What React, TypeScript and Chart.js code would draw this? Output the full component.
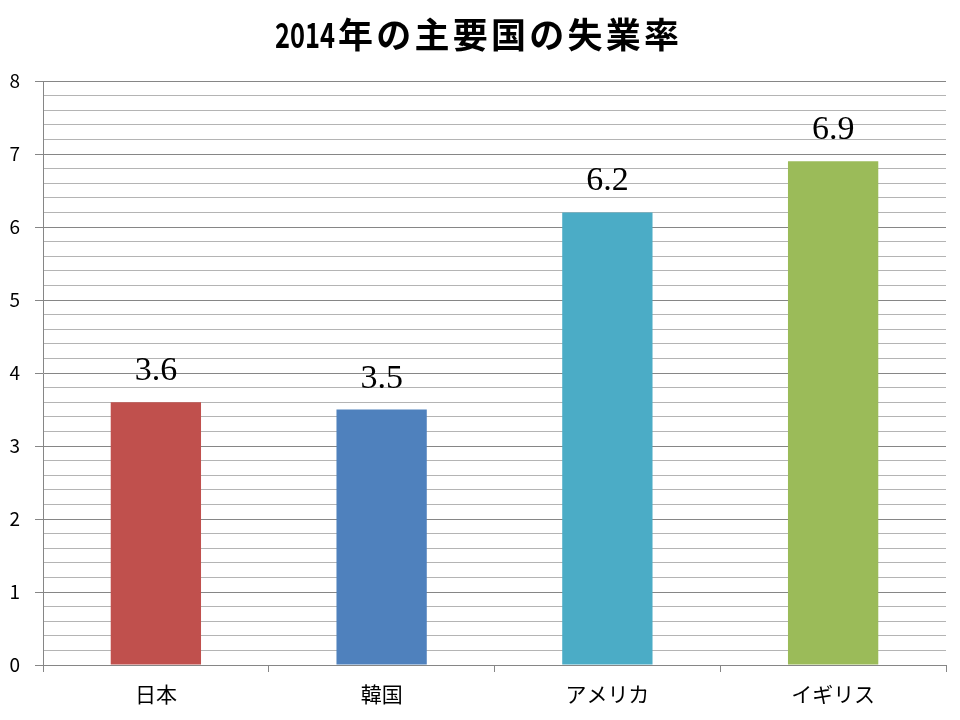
import { Chart, registerables } from 'chart.js'
import React, { useEffect, useRef } from 'react'

Chart.register(...registerables)

const titleYear = '2014'
const titleRest = '年の主要国の失業率'
const countries = ['日本', '韓国', 'アメリカ', 'イギリス']
const unemployment = [3.6, 3.5, 6.2, 6.9]
const barColors = ['#C0504D', '#4F81BD', '#4BACC6', '#9BBB59']
const yMin = 0
const yMax = 8
const yStep = 0.2

const isMajor = (v: number) => Math.abs(v - Math.round(v)) < 1e-6

// title: narrow digits + spaced kanji, drawn by hand
const titlePlugin = {
  id: 'spacedTitle',
  afterDraw(chart: Chart) {
    const ctx = chart.ctx
    ctx.save()
    ctx.font = 'bold 35px "Noto Sans CJK JP", sans-serif'
    ctx.fillStyle = '#000'
    ctx.textAlign = 'left'
    ctx.textBaseline = 'middle'
    const yearW = ctx.measureText(titleYear).width
    ctx.save()
    ctx.translate(275, 35)
    ctx.scale(60 / yearW, 1)
    ctx.fillText(titleYear, 0, 0)
    ctx.restore()
    const restW = ctx.measureText(titleRest).width
    const gap = Math.max(0, (341 - restW) / (titleRest.length - 1))
    ;(ctx as any).letterSpacing = gap + 'px'
    ctx.fillText(titleRest, 338, 35)
    ctx.restore()
  }
}

// value labels above each bar
const valueLabels = {
  id: 'valueLabels',
  afterDatasetsDraw(chart: Chart) {
    const ctx = chart.ctx
    const meta = chart.getDatasetMeta(0)
    ctx.save()
    ctx.font = '34px "Liberation Serif", serif'
    ctx.fillStyle = '#000'
    ctx.textAlign = 'center'
    ctx.textBaseline = 'alphabetic'
    meta.data.forEach((bar: any, i: number) => {
      ctx.fillText(unemployment[i].toFixed(1), bar.x, bar.y - 22)
    })
    ctx.restore()
  }
}

const BarChart: React.FC = () => {
  const chartRef = useRef<Chart | null>(null)
  const canvasRef = useRef<HTMLCanvasElement | null>(null)

  useEffect(() => {
    document.body.style.margin = '0'
    if (!canvasRef.current) return
    if (chartRef.current) chartRef.current.destroy()

    chartRef.current = new Chart(canvasRef.current, {
      type: 'bar',
      data: {
        labels: countries,
        datasets: [
          {
            label: '失業率',
            data: unemployment,
            backgroundColor: barColors,
            borderWidth: 0,
            barPercentage: 0.4,
            categoryPercentage: 1
          }
        ]
      },
      options: {
        animation: false,
        responsive: true,
        maintainAspectRatio: false,
        layout: { padding: { top: 81, right: 14, left: 0, bottom: 0 } },
        plugins: {
          legend: { display: false },
          title: { display: false },
          tooltip: { enabled: false }
        },
        scales: {
          x: {
            afterFit: (scale: any) => {
              scale.height = 55
            },
            grid: {
              drawOnChartArea: false,
              drawTicks: true,
              tickLength: 7,
              color: '#868686'
            },
            border: { color: '#868686', width: 1 },
            ticks: {
              color: '#000',
              padding: 9,
              font: { family: '"Noto Sans CJK JP", sans-serif', size: 21 }
            }
          },
          y: {
            min: yMin,
            max: yMax,
            afterFit: (scale: any) => {
              scale.width = 43
            },
            grid: {
              color: (c: any) => (isMajor(c.tick.value) ? '#868686' : '#b4b4b4'),
              tickColor: (c: any) => (isMajor(c.tick.value) ? '#868686' : 'rgba(0,0,0,0)'),
              tickLength: 8,
              lineWidth: 1
            },
            border: { color: '#868686', width: 1 },
            ticks: {
              stepSize: yStep,
              autoSkip: false,
              color: '#000',
              padding: 15,
              font: { family: '"Noto Sans CJK JP", sans-serif', size: 19 },
              callback: (v: any) => (isMajor(Number(v)) ? String(Math.round(Number(v))) : '')
            }
          }
        }
      },
      plugins: [titlePlugin, valueLabels]
    })

    return () => {
      if (chartRef.current) {
        chartRef.current.destroy()
        chartRef.current = null
      }
    }
  }, [])

  return (
    <div style={{ position: 'relative', width: 960, height: 720, background: '#fff' }}>
      <canvas ref={canvasRef}></canvas>
    </div>
  )
}

export default function App() {
  return <BarChart />
}
